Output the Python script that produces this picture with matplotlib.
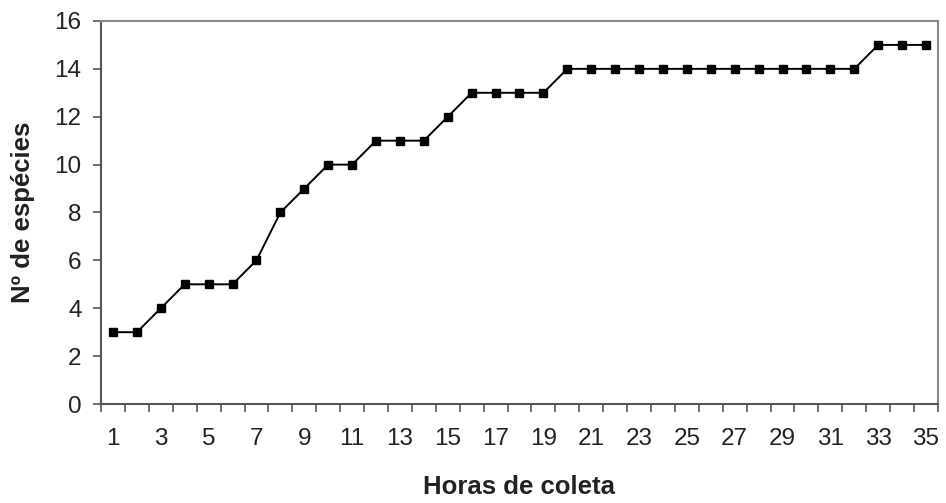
import numpy as np
import matplotlib
matplotlib.use('Agg')
import matplotlib.pyplot as plt
from matplotlib.ticker import FixedLocator

horas = list(range(1, 36))
especies = [3, 3, 4, 5, 5, 5, 6, 8, 9, 10, 10, 11, 11, 11, 12, 13, 13, 13, 13,
            14, 14, 14, 14, 14, 14, 14, 14, 14, 14, 14, 14, 14, 15, 15, 15]
xlabels = [str(h) for h in horas[::2]]

plt.rcParams['font.family'] = ['Liberation Sans', 'DejaVu Sans']

fig = plt.figure(figsize=(9.46, 5.03), dpi=100)
ax = fig.add_axes([0.1068, 0.1968, 0.8847, 0.7615])

ax.plot(horas, especies, color='black', lw=1.4, marker='s', markersize=6,
        markerfacecolor='black', markeredgecolor='black')

ax.set_xlim(0.5, 35.5)
ax.set_ylim(0, 16)
ax.set_yticks(np.arange(0, 17, 2))
ax.set_xticks(horas[::2])
ax.set_xticklabels(xlabels)
# excel style category ticks between points
ax.xaxis.set_minor_locator(FixedLocator(np.arange(0.5, 36, 1)))
ax.tick_params(axis='x', which='major', length=0, pad=17, labelsize=17.5, colors='#222222')
ax.tick_params(axis='x', which='minor', length=6, width=1.2, color='#555555', direction='out')
ax.tick_params(axis='y', which='major', length=6, width=1.2, color='#555555',
               labelsize=17.5, labelcolor='#222222', pad=8)

for s in ['left', 'bottom']:
    ax.spines[s].set_color('#555555')
    ax.spines[s].set_linewidth(1.5)
for s in ['top', 'right']:
    ax.spines[s].set_color('#888888')
    ax.spines[s].set_linewidth(1.5)

ax.set_xlabel('Horas de coleta', fontsize=18.5, fontweight='bold', color='#222222', va='center')
ax.set_ylabel('Nº de espécies', fontsize=18.5, fontweight='bold', color='#222222', va='center')
ax.xaxis.set_label_coords(0.5, -0.217)
ax.yaxis.set_label_coords(-0.0932, 0.5)

fig.savefig('out.png', dpi=100)
